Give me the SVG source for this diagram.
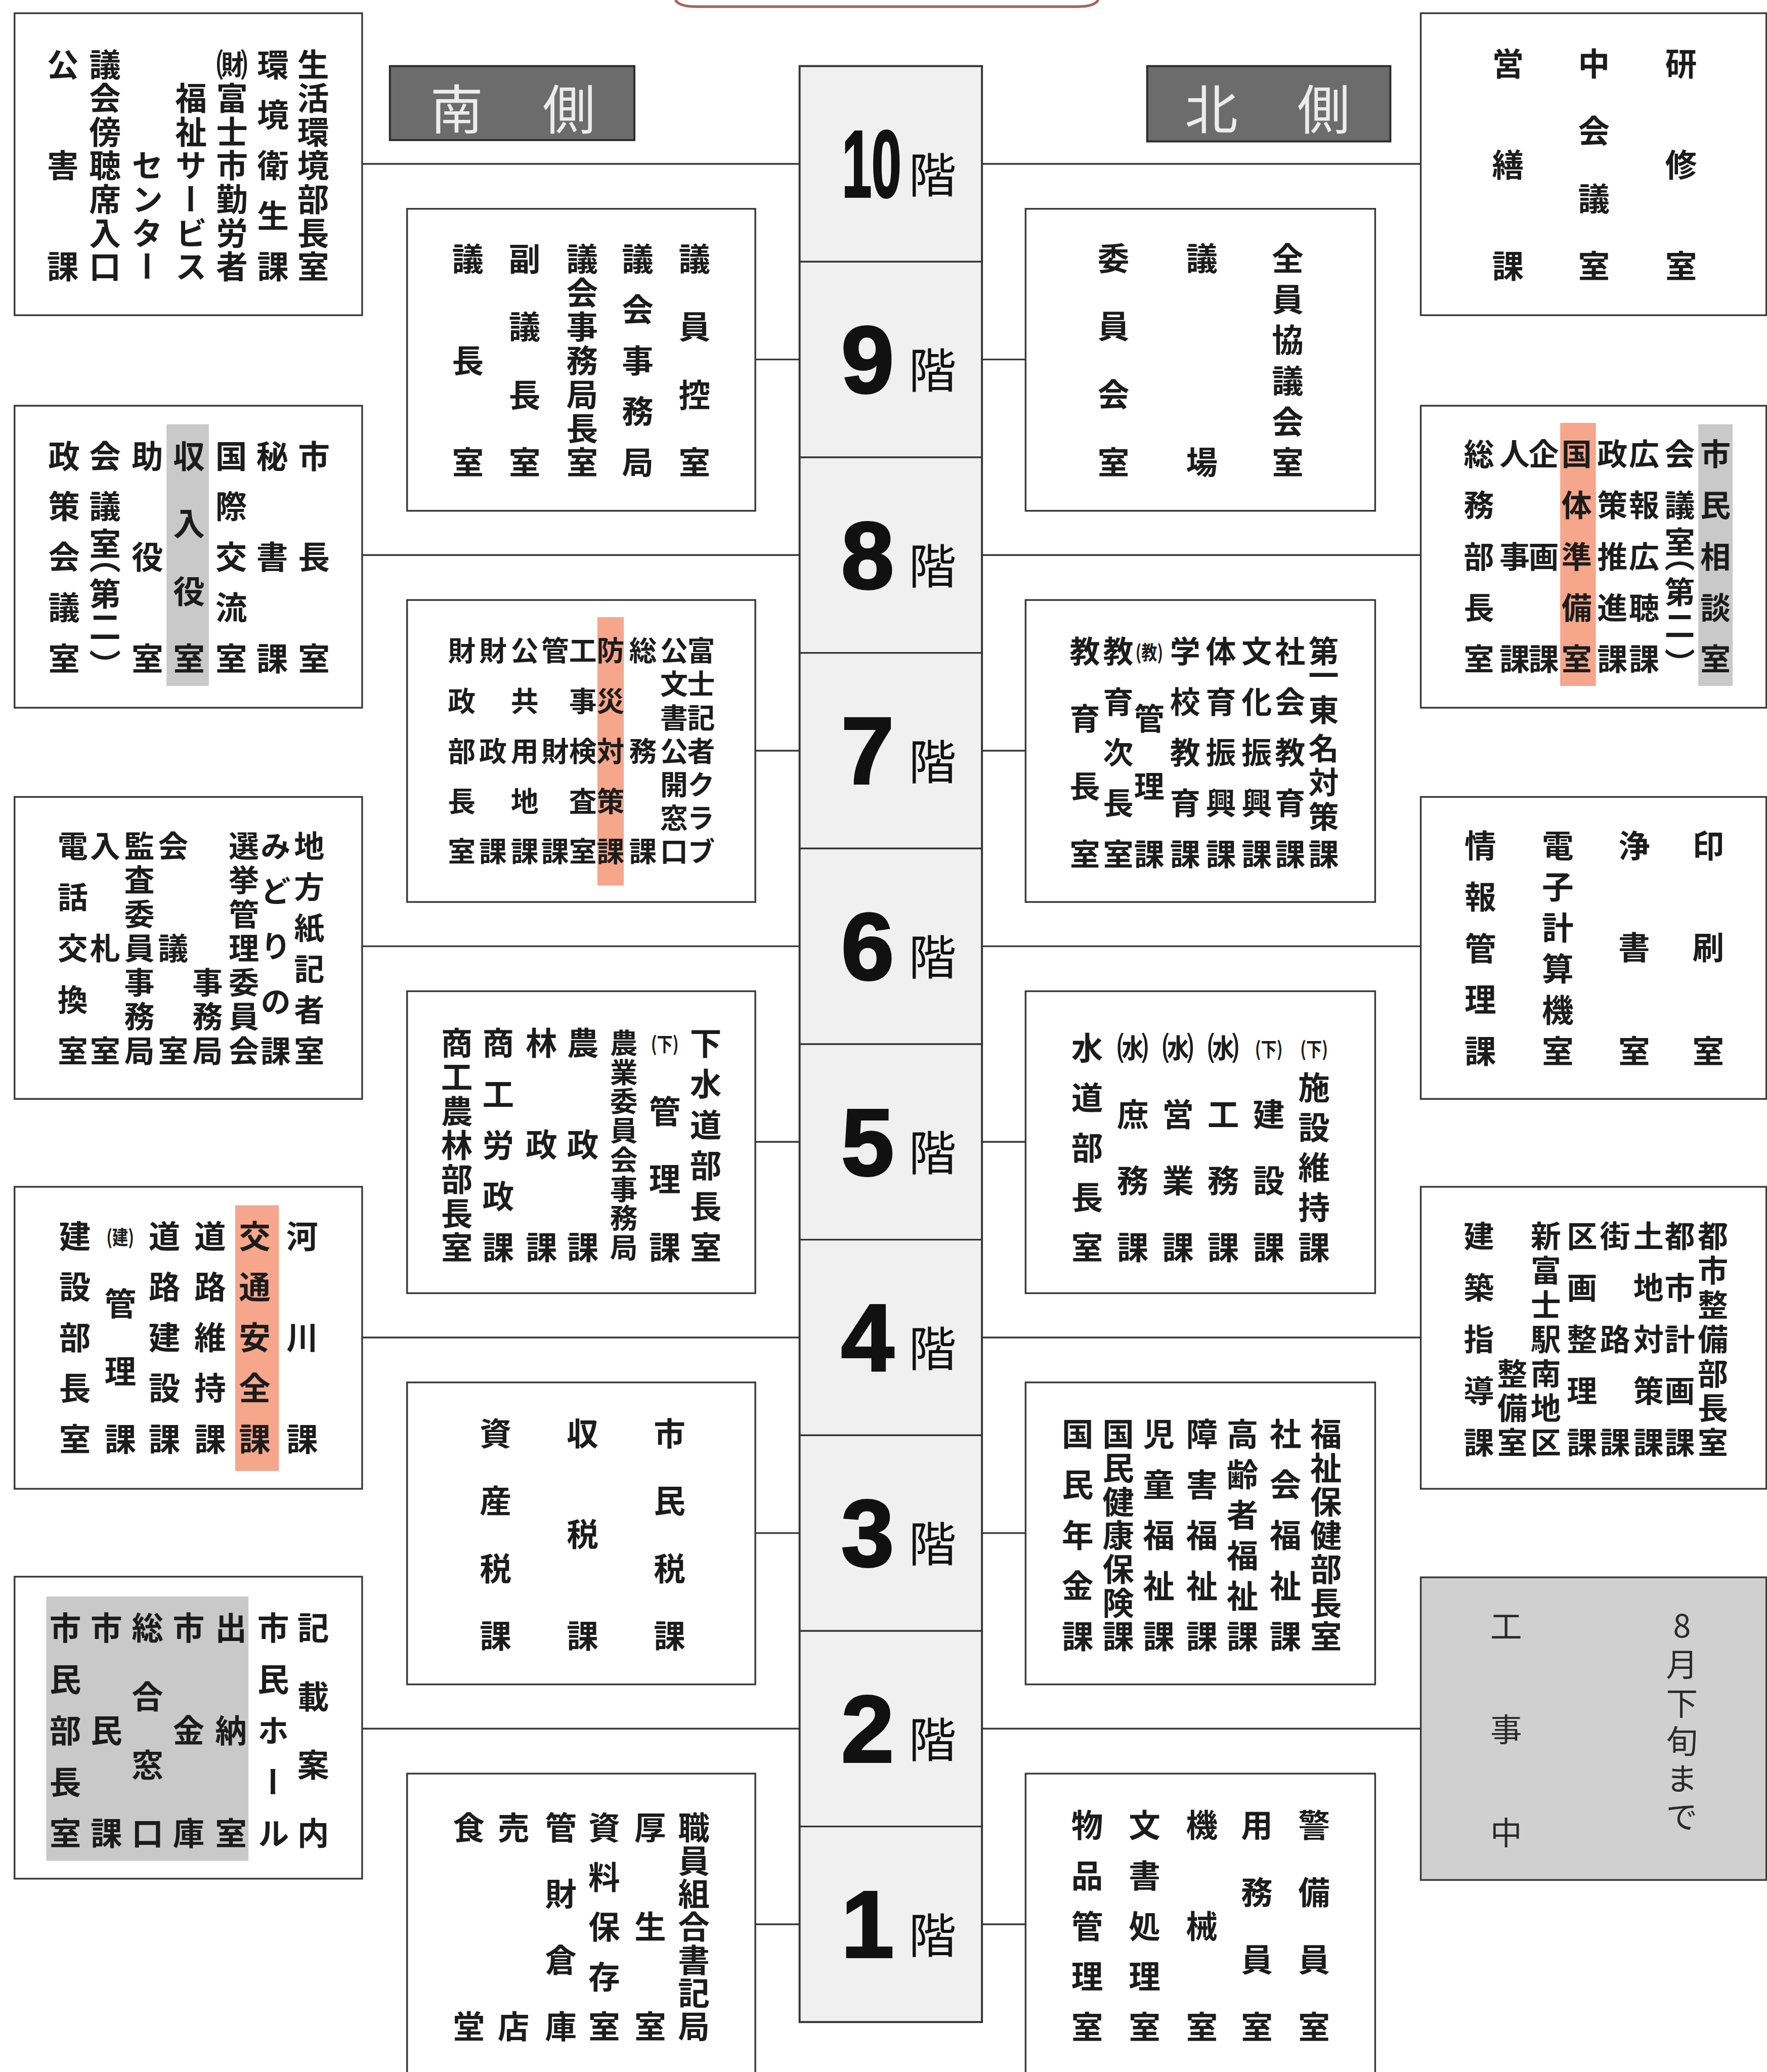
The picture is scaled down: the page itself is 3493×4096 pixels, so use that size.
<svg xmlns="http://www.w3.org/2000/svg" width="3493" height="4096" viewBox="0 0 3493 4096">
<style>
.b{fill:#fff;stroke:#383838;stroke-width:1.3}
.t{font-family:"Noto Sans CJK JP","Noto Sans CJK SC",sans-serif;font-size:24px;font-weight:700;fill:#1c1c1c;writing-mode:vertical-rl;text-anchor:middle;dominant-baseline:central}
.m{font-size:23px}
.sm{font-size:21px}
.lt{font-weight:400;fill:#2a2a2a}
.up{text-orientation:upright}
.p{font-family:"Noto Sans CJK JP",sans-serif;font-size:15px;font-weight:700;fill:#1c1c1c;text-anchor:middle;dominant-baseline:central}
.or{fill:#f5a68b}
.gy{fill:#c9c9c9}
.cn line{stroke:#383838;stroke-width:1.3}
.d{font-family:"Liberation Sans",Arial,sans-serif;font-weight:700;font-size:72px;fill:#111;stroke:#111;stroke-width:1.5;text-anchor:middle}
.k{font-family:"Noto Sans CJK JP",sans-serif;font-size:36px;font-weight:400;fill:#111;text-anchor:middle;dominant-baseline:central}
.lb{fill:#6c6c6c;stroke:#2c2c2c;stroke-width:1.5}
.lbt{font-family:"Noto Sans CJK JP",sans-serif;font-size:40px;font-weight:400;fill:#ececec;text-anchor:middle;dominant-baseline:central}
</style>
<rect width="3493" height="4096" fill="#fff"/>
<g transform="scale(2.6126)">
<path d="M511,0 Q514,5 526,5 L816,5 Q828,5 831,0" fill="none" stroke="#a8625f" stroke-width="2"/>
<g id="connectors" class="cn">
<line x1="274" y1="124" x2="605" y2="124"/>
<line x1="274" y1="420" x2="605" y2="420"/>
<line x1="274" y1="716" x2="605" y2="716"/>
<line x1="274" y1="1012" x2="605" y2="1012"/>
<line x1="274" y1="1308" x2="605" y2="1308"/>
<line x1="571.5" y1="272" x2="605" y2="272"/>
<line x1="571.5" y1="568" x2="605" y2="568"/>
<line x1="571.5" y1="864" x2="605" y2="864"/>
<line x1="571.5" y1="1160" x2="605" y2="1160"/>
<line x1="571.5" y1="1456" x2="605" y2="1456"/>
<line x1="743" y1="124" x2="1075" y2="124"/>
<line x1="743" y1="420" x2="1075" y2="420"/>
<line x1="743" y1="716" x2="1075" y2="716"/>
<line x1="743" y1="1012" x2="1075" y2="1012"/>
<line x1="743" y1="1308" x2="1075" y2="1308"/>
<line x1="743" y1="272" x2="776" y2="272"/>
<line x1="743" y1="568" x2="776" y2="568"/>
<line x1="743" y1="864" x2="776" y2="864"/>
<line x1="743" y1="1160" x2="776" y2="1160"/>
<line x1="743" y1="1456" x2="776" y2="1456"/>
</g>
<g id="floor-stack">
<rect x="605" y="50" width="138" height="1480" fill="#f0f0f0" stroke="#333" stroke-width="1.5"/>
<g stroke="#333" stroke-width="1.3">
<line x1="605" y1="198" x2="743" y2="198"/><line x1="605" y1="346" x2="743" y2="346"/>
<line x1="605" y1="494" x2="743" y2="494"/><line x1="605" y1="642" x2="743" y2="642"/>
<line x1="605" y1="790" x2="743" y2="790"/><line x1="605" y1="938" x2="743" y2="938"/>
<line x1="605" y1="1086" x2="743" y2="1086"/><line x1="605" y1="1234" x2="743" y2="1234"/>
<line x1="605" y1="1382" x2="743" y2="1382"/>
</g>
<text class="d" transform="translate(659.5,149) scale(0.56,1)" x="0" y="0">10</text>
<text class="d" x="656.5" y="297">9</text>
<text class="d" x="656.5" y="445">8</text>
<text class="d" x="656.5" y="593">7</text>
<text class="d" x="656.5" y="741">6</text>
<text class="d" x="656.5" y="889">5</text>
<text class="d" x="656.5" y="1037">4</text>
<text class="d" x="656.5" y="1185">3</text>
<text class="d" x="656.5" y="1333">2</text>
<text class="d" x="656.5" y="1481">1</text>
<text class="k" x="705.5" y="130">階</text>
<text class="k" x="705.5" y="278">階</text>
<text class="k" x="705.5" y="426">階</text>
<text class="k" x="705.5" y="574">階</text>
<text class="k" x="705.5" y="722">階</text>
<text class="k" x="705.5" y="870">階</text>
<text class="k" x="705.5" y="1018">階</text>
<text class="k" x="705.5" y="1166">階</text>
<text class="k" x="705.5" y="1314">階</text>
<text class="k" x="705.5" y="1462">階</text>
</g>
<g id="label-south">
<rect class="lb" x="295" y="50" width="185" height="56"/>
<text class="lbt" x="345.5 430.5" y="80">南側</text>
</g>
<g id="label-north">
<rect class="lb" x="868" y="50" width="184" height="57"/>
<text class="lbt" x="916.5 1001.5" y="80">北側</text>
</g>
<g id="s10">
<rect class="b" x="11" y="10" width="263" height="228.5"/>
<text class="t" x="237" y="48.5 74 99.5 125 150.5 176 201.5">生活環境部長室</text>
<text class="t" x="206.5" y="48.5 86.75 125 163.25 201.5">環境衛生課</text>
<text class="t" x="175.5" y="48.5 74 99.5 125 150.5 176 201.5">㈶富士市勤労者</text>
<text class="t" x="144.5" y="74 99.5 125 150.5 176 201.5">福祉サービス</text>
<text class="t" x="111.5" y="125 150.5 176 201.5">センター</text>
<text class="t" x="79.5" y="48.5 74 99.5 125 150.5 176 201.5">議会傍聴席入口</text>
<text class="t" x="47.5" y="48.5 125 201.5">公害課</text>
</g>
<g id="s9">
<rect class="b" x="308" y="158" width="263.5" height="228.5"/>
<text class="t" x="525.5" y="195.5 247 298.5 349.5">議員控室</text>
<text class="t" x="482.5" y="195.5 234 272.5 311 349.5">議会事務局</text>
<text class="t" x="440.5" y="195.5 221.2 246.8 272.5 298.2 323.8 349.5">議会事務局長室</text>
<text class="t" x="397" y="195.5 247 298.5 349.5">副議長室</text>
<text class="t" x="354" y="195.5 272.5 349.5">議長室</text>
</g>
<g id="s8">
<rect class="b" x="11" y="307" width="263" height="228.5"/>
<rect class="gy" x="126" y="321" width="32" height="198"/>
<text class="t" x="237.5" y="345 421 498">市長室</text>
<text class="t" x="206" y="345 421 498">秘書課</text>
<text class="t" x="175" y="345 383 421 459.5 498">国際交流室</text>
<text class="t" x="143" y="345 396 447 498">収入役室</text>
<text class="t" x="111.5" y="345 421 498">助役室</text>
<text class="t" x="79.5" y="345 383 411 422 449 474 503">会議室（第二）</text>
<text class="t" x="48.5" y="345 383 421 459.5 498">政策会議室</text>
</g>
<g id="s7">
<rect class="b" x="308" y="454" width="263.5" height="228.5"/>
<rect class="or" x="452" y="467" width="20" height="203"/>
<text class="t sm" x="349.3" y="492 530 568 606 644">財政部長室</text>
<text class="t sm" x="373" y="492 568 644">財政課</text>
<text class="t sm" x="397" y="492 530 568 606 644">公共用地課</text>
<text class="t sm" x="420" y="492 568 644">管財課</text>
<text class="t sm" x="441" y="492 530 568 606 644">工事検査室</text>
<text class="t sm" x="462" y="492 530 568 606 644">防災対策課</text>
<text class="t sm" x="486.5" y="492 568 644">総務課</text>
<text class="t sm" x="510" y="492 517.3 542.7 568 593.3 618.7 644">公文書公開窓口</text>
<text class="t sm" x="530.5" y="492 517.3 542.7 568 593.3 618.7 644">富士記者クラブ</text>
</g>
<g id="s6">
<rect class="b" x="11" y="603" width="263" height="228.5"/>
<text class="t m" x="234" y="640 671 702 733 764 795">地方紙記者室</text>
<text class="t m" x="208.5" y="640 674 716 758 795">みどりの課</text>
<text class="t m" x="184.5" y="640 665.8 691.7 717.5 743.3 769.2 795">選挙管理委員会</text>
<text class="t m" x="157" y="743.3 769.2 795">事務局</text>
<text class="t m" x="131" y="640 717.5 795">会議室</text>
<text class="t m" x="105.5" y="640 665.8 691.7 717.5 743.3 769.2 795">監査委員事務局</text>
<text class="t m" x="79.5" y="640 717.5 795">入札室</text>
<text class="t m" x="55" y="640 678.75 717.5 756.25 795">電話交換室</text>
</g>
<g id="s5">
<rect class="b" x="308" y="750" width="263.5" height="228.5"/>
<text class="t" x="534" y="789 820 850.8 881.7 912.6 943.5">下水道部長室</text>
<text class="p" x="503" y="789" textLength="21" lengthAdjust="spacingAndGlyphs">(下)</text>
<text class="t" x="503" y="840.5 892 943.5">管理課</text>
<text class="t sm" x="472" y="789 811 833.1 855.2 877.3 899.4 921.4 943.5">農業委員会事務局</text>
<text class="t" x="441" y="789 866 943.5">農政課</text>
<text class="t" x="409.7" y="789 866 943.5">林政課</text>
<text class="t" x="377" y="789 827.6 866.3 904.9 943.5">商工労政課</text>
<text class="t" x="345.7" y="789 814.75 840.5 866.25 892 917.75 943.5">商工農林部長室</text>
</g>
<g id="s4">
<rect class="b" x="11" y="898" width="263" height="228.5"/>
<rect class="or" x="178" y="912" width="33" height="201"/>
<text class="t" x="228.6" y="935 1011.8 1088.5">河川課</text>
<text class="t" x="192.8" y="935 973.4 1011.8 1050.1 1088.5">交通安全課</text>
<text class="t" x="159" y="935 973.4 1011.8 1050.1 1088.5">道路維持課</text>
<text class="t" x="124.4" y="935 973.4 1011.8 1050.1 1088.5">道路建設課</text>
<text class="p" x="91" y="935" textLength="21" lengthAdjust="spacingAndGlyphs">(建)</text>
<text class="t" x="91" y="986 1037.3 1088.5">管理課</text>
<text class="t" x="56.7" y="935 973.4 1011.8 1050.1 1088.5">建設部長室</text>
</g>
<g id="s3">
<rect class="b" x="308" y="1046" width="263.5" height="228.5"/>
<text class="t" x="506.6" y="1084.5 1135.5 1186.5 1237.5">市民税課</text>
<text class="t" x="440.8" y="1084.5 1160.6 1237.5">収税課</text>
<text class="t" x="375" y="1084.5 1135.5 1186.5 1237.5">資産税課</text>
</g>
<g id="s2">
<rect class="b" x="11" y="1193" width="263" height="228.5"/>
<rect class="gy" x="35" y="1208" width="153" height="200"/>
<text class="t" x="237" y="1231.5 1283.3 1335.2 1387">記載案内</text>
<text class="t" x="206.7" y="1231.5 1270.4 1309.3 1348.1 1387">市民ホール</text>
<text class="t" x="174.8" y="1231.5 1309.3 1387">出納室</text>
<text class="t" x="142.7" y="1231.5 1309.3 1387">市金庫</text>
<text class="t" x="111.6" y="1231.5 1283.3 1335.2 1387">総合窓口</text>
<text class="t" x="80.5" y="1231.5 1309.3 1387">市民課</text>
<text class="t" x="49.4" y="1231.5 1270.4 1309.3 1348.1 1387">市民部長室</text>
</g>
<g id="s1">
<rect class="b" x="308" y="1342" width="263.5" height="240"/>
<text class="t" x="525" y="1382.6 1407.7 1432.7 1457.8 1482.9 1507.9 1533">職員組合書記局</text>
<text class="t" x="492" y="1382.6 1457.8 1533">厚生室</text>
<text class="t" x="457.2" y="1382.6 1420.2 1457.8 1495.4 1533">資料保存室</text>
<text class="t" x="424.3" y="1382.6 1432.7 1482.9 1533">管財倉庫</text>
<text class="t" x="388.5" y="1382.6 1533">売店</text>
<text class="t" x="354.8" y="1382.6 1533">食堂</text>
</g>
<g id="n10">
<rect class="b" x="1075" y="10" width="261.5" height="228.5"/>
<text class="t" x="1272" y="48 124.5 201">研修室</text>
<text class="t" x="1206" y="48 99 150 201">中会議室</text>
<text class="t" x="1141" y="48 124.5 201">営繕課</text>
</g>
<g id="n9">
<rect class="b" x="776" y="158" width="264.5" height="228.5"/>
<text class="t" x="974.4" y="195.3 226.2 257 287.9 318.8 349.6">全員協議会室</text>
<text class="t" x="909.4" y="195.3 349.6">議場</text>
<text class="t" x="842.5" y="195.3 246.7 298.2 349.6">委員会室</text>
</g>
<g id="n8">
<rect class="b" x="1075" y="307" width="261.5" height="228.5"/>
<rect class="gy" x="1285" y="321" width="26" height="198"/>
<rect class="or" x="1180.5" y="320" width="27" height="199"/>
<text class="t m" x="1298" y="343.5 382 421 459.6 498.3">市民相談室</text>
<text class="t m" x="1271" y="343.5 382 410 421 448 473 502">会議室（第二）</text>
<text class="t m" x="1244" y="343.5 382 421 459.6 498.3">広報広聴課</text>
<text class="t m" x="1220" y="343.5 382 421 459.6 498.3">政策推進課</text>
<text class="t m" x="1193" y="343.5 382 421 459.6 498.3">国体準備室</text>
<text class="t m" x="1168" y="343.5 421 498.3">企画課</text>
<text class="t m" x="1146" y="343.5 421 498.3">人事課</text>
<text class="t m" x="1119" y="343.5 382 421 459.6 498.3">総務部長室</text>
</g>
<g id="n7">
<rect class="b" x="776" y="454" width="264.5" height="228.5"/>
<text class="t m" x="1001.5" y="492.6 511 537 566 592 618 646">第一東名対策課</text>
<text class="t m" x="976.2" y="492.6 531 569.3 607.7 646">社会教育課</text>
<text class="t m" x="950.9" y="492.6 531 569.3 607.7 646">文化振興課</text>
<text class="t m" x="923.8" y="492.6 531 569.3 607.7 646">体育振興課</text>
<text class="t m" x="896.7" y="492.6 531 569.3 607.7 646">学校教育課</text>
<text class="p" x="869.6" y="492.6" textLength="21" lengthAdjust="spacingAndGlyphs">(教)</text>
<text class="t m" x="869.6" y="543.7 594.9 646">管理課</text>
<text class="t m" x="846.1" y="492.6 531 569.3 607.7 646">教育次長室</text>
<text class="t m" x="820.8" y="492.6 543.7 594.9 646">教育長室</text>
</g>
<g id="n6">
<rect class="b" x="1075" y="603" width="261.5" height="228.5"/>
<text class="t" x="1292.5" y="639.6 716.6 795">印刷室</text>
<text class="t" x="1236.5" y="639.6 716.6 795">浄書室</text>
<text class="t" x="1178.7" y="639.6 670.7 701.8 732.8 763.9 795">電子計算機室</text>
<text class="t" x="1120.1" y="639.6 678.45 717.3 756.15 795">情報管理課</text>
</g>
<g id="n5">
<rect class="b" x="776" y="750" width="264.5" height="228.5"/>
<text class="p" x="994.3" y="792.6" textLength="21" lengthAdjust="spacingAndGlyphs">(下)</text>
<text class="t" x="994.3" y="822.8 853 883.1 913.3 943.5">施設維持課</text>
<text class="p" x="960" y="792.6" textLength="21" lengthAdjust="spacingAndGlyphs">(下)</text>
<text class="t" x="960" y="842.9 893.2 943.5">建設課</text>
<text class="t" x="925.6" y="792.6 842.9 893.2 943.5">㈬工務課</text>
<text class="t" x="891.3" y="792.6 842.9 893.2 943.5">㈬営業課</text>
<text class="t" x="857" y="792.6 842.9 893.2 943.5">㈬庶務課</text>
<text class="t" x="822.6" y="792.6 830.3 868 905.8 943.5">水道部長室</text>
</g>
<g id="n4">
<rect class="b" x="1075" y="898" width="261.5" height="228.5"/>
<text class="t m" x="1296" y="935.3 961.3 987.3 1013.4 1039.4 1065.4 1091.4">都市整備部長室</text>
<text class="t m" x="1271" y="935.3 974.3 1013.4 1052.4 1091.4">都市計画課</text>
<text class="t m" x="1247.3" y="935.3 974.3 1013.4 1052.4 1091.4">土地対策課</text>
<text class="t m" x="1222" y="935.3 1013.4 1091.4">街路課</text>
<text class="t m" x="1197" y="935.3 974.3 1013.4 1052.4 1091.4">区画整理課</text>
<text class="t m" x="1169.6" y="935.3 961.3 987.3 1013.4 1039.4 1065.4 1091.4">新富士駅南地区</text>
<text class="t m" x="1144.3" y="1039.4 1065.4 1091.4">整備室</text>
<text class="t m" x="1119" y="935.3 974.3 1013.4 1052.4 1091.4">建築指導課</text>
</g>
<g id="n3">
<rect class="b" x="776" y="1046" width="264.5" height="228.5"/>
<text class="t" x="1003.3" y="1085 1110.5 1136 1161.5 1187 1212.5 1238">福祉保健部長室</text>
<text class="t" x="972.6" y="1085 1123.25 1161.5 1199.75 1238">社会福祉課</text>
<text class="t" x="940.1" y="1085 1115.6 1146.2 1176.8 1207.4 1238">高齢者福祉課</text>
<text class="t" x="909.4" y="1085 1123.25 1161.5 1199.75 1238">障害福祉課</text>
<text class="t" x="876.8" y="1085 1123.25 1161.5 1199.75 1238">児童福祉課</text>
<text class="t" x="846.1" y="1085 1110.5 1136 1161.5 1187 1212.5 1238">国民健康保険課</text>
<text class="t" x="815.4" y="1085 1123.25 1161.5 1199.75 1238">国民年金課</text>
</g>
<g id="n2">
<rect x="1075" y="1193.5" width="261.5" height="229" fill="#d0d0d0" stroke="#383838" stroke-width="1.3"/>
<text class="t lt" x="1139.6" y="1230.4 1308.4 1386.3">工事中</text>
<text class="t lt up" x="1272.6" y="1230 1259 1288.5 1317 1345.5 1374">8月下旬まで</text>
</g>
<g id="n1">
<rect class="b" x="776" y="1342" width="264.5" height="240"/>
<text class="t" x="994.3" y="1380.7 1431.6 1482.6 1533.5">警備員室</text>
<text class="t" x="951" y="1380.7 1431.6 1482.6 1533.5">用務員室</text>
<text class="t" x="909.4" y="1380.7 1457.1 1533.5">機械室</text>
<text class="t" x="866" y="1380.7 1418.9 1457.1 1495.3 1533.5">文書処理室</text>
<text class="t" x="822.6" y="1380.7 1418.9 1457.1 1495.3 1533.5">物品管理室</text>
</g>
</g>
</svg>
